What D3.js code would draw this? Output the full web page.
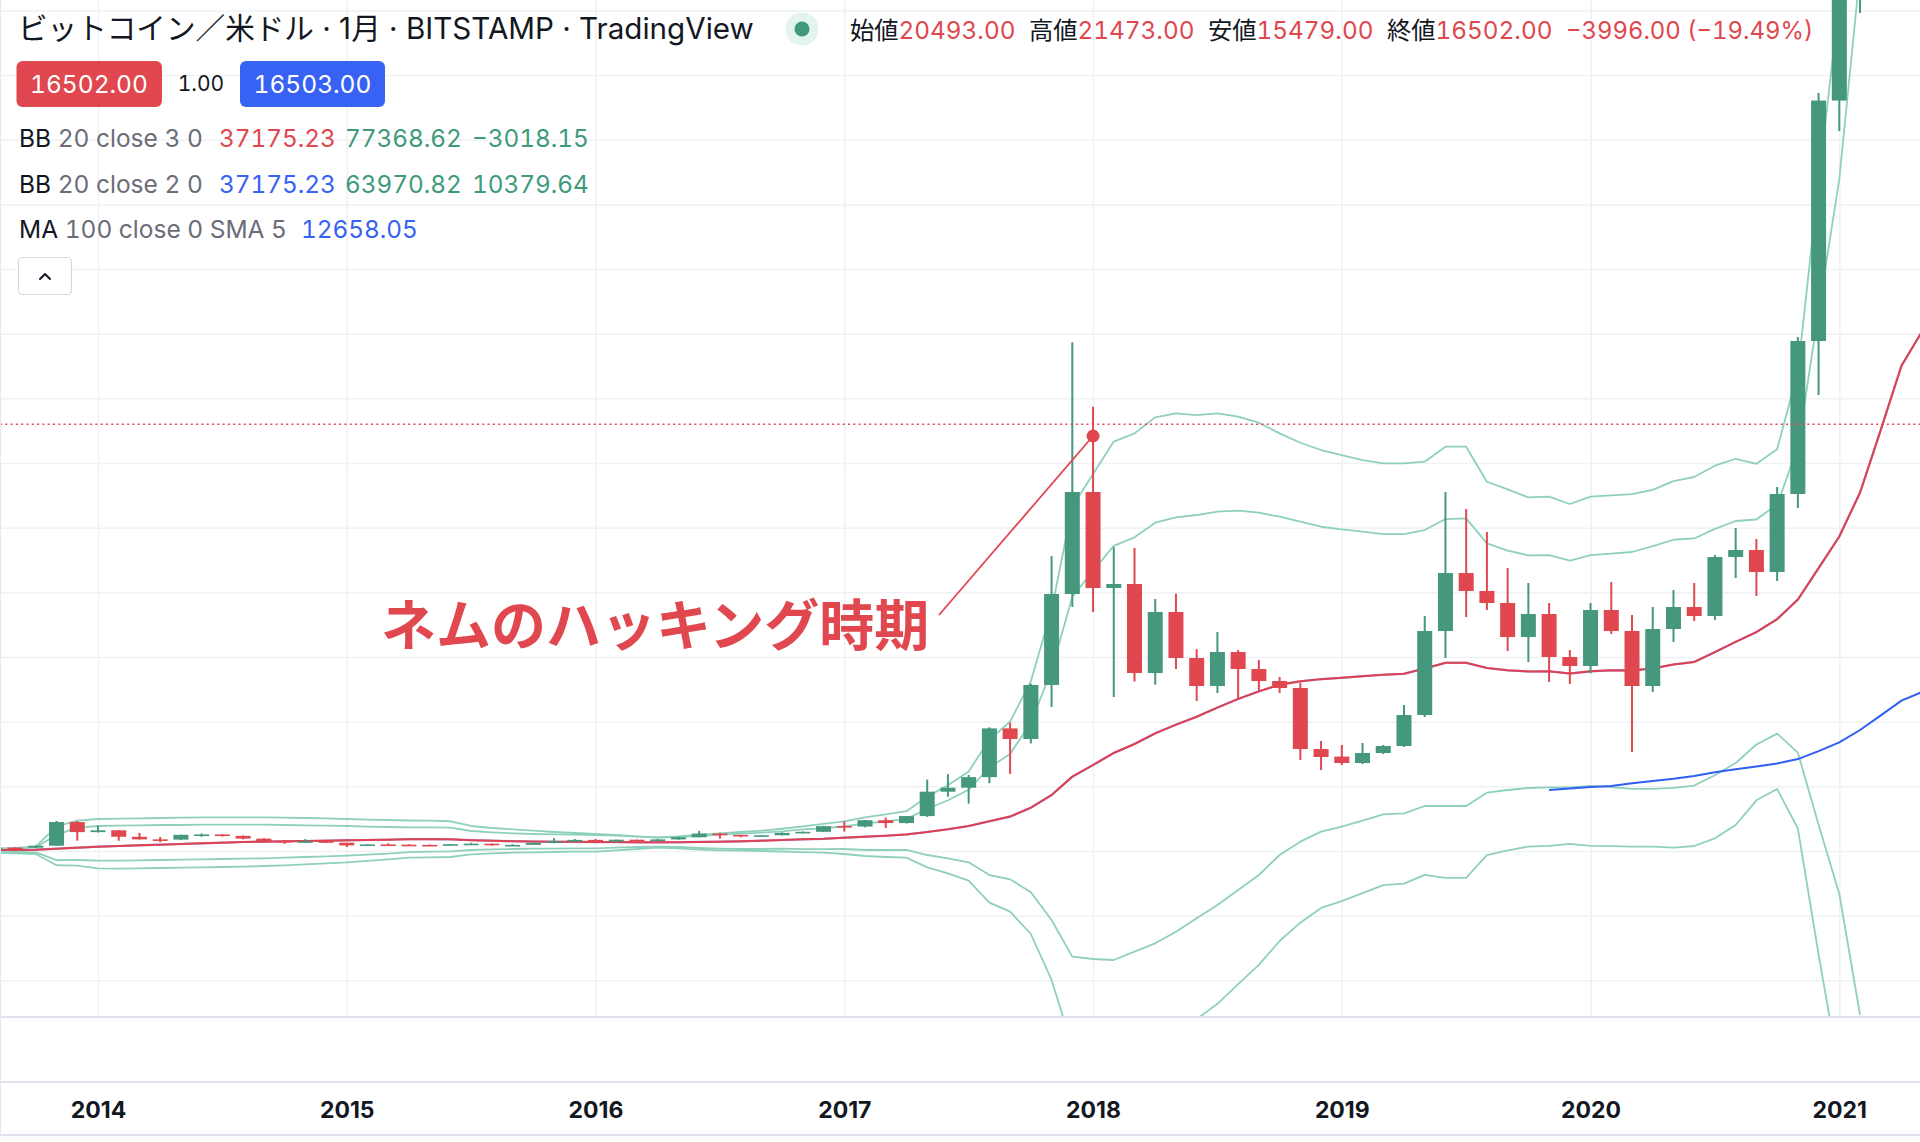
<!DOCTYPE html>
<html lang="ja"><head><meta charset="utf-8"><title>BTCUSD 1M</title>
<script src="https://cdn.jsdelivr.net/npm/d3@7/dist/d3.min.js"></script>
<style>
html,body{margin:0;padding:0;background:#fff;overflow:hidden}
svg{display:block;font-family:Inter,"Noto Sans CJK JP",sans-serif}
.tnum{font-feature-settings:"tnum" 1;font-variant-numeric:tabular-nums}
</style></head><body>
<svg id="c" width="1920" height="1142"></svg>
<script>
// ---------- DATA (monthly, Aug 2013 .. ) ----------
const months = d3.timeMonth.range(new Date(2013, 7, 1), new Date(2021, 5, 1)); // Aug 2013 .. May 2021
const yearLabels = ["2014","2015","2016","2017","2018","2019","2020","2021"];

const openP = [106,135,127,204,1120,
 730,800,550,450,440,625,640,585,478,386,338,378,
 320,217,254,244,236,230,263,284,230,236,314,377,
 430,368,437,416,448,531,673,624,573,609,700,742,
 966,945,1190,1080,1350,2293,2447,2856,4740,4330,6420,9936,
 13880,10168,10322,6881,9240,7461,6379,7693,7036,6572,6302,3943,
 3650,3402,3789,4059,5258,8505,10747,10052,9588,8273,9162,7500,
 7152,9317,8505,6379,8583,9433,9085,11366,11637,10786,13802,19717,
 29014,33100,45200,58800];
const highP = [140,140,215,1163,1160,
 980,815,700,540,630,680,650,600,495,415,460,385,
 320,265,300,260,250,270,315,285,262,330,502,465,
 465,445,440,465,555,780,705,624,612,720,755,975,
 1150,1200,1290,1355,2760,2970,2940,4780,4960,6470,11400,19666,
 17176,11750,11714,9742,9950,7800,8467,7771,7384,6727,6495,4253,
 4098,4175,4100,5644,9085,13879,13222,12332,10940,10361,9588,7771,
 9588,10400,9124,9433,10090,10361,11443,12487,12062,14072,19871,29304,
 41950,58300,61800,64900];
const lowP = [100,110,110,200,400,
 720,395,440,340,420,550,560,450,360,275,320,310,
 152,200,240,215,225,220,255,200,225,235,300,345,
 350,365,395,412,436,525,480,530,570,605,680,740,
 750,914,890,1060,1320,2100,1830,2620,2980,4160,5570,9433,
 9240,5950,6550,6430,7036,5800,6108,5876,6147,6108,3518,3131,
 3325,3363,3750,4021,5180,7461,9046,9317,7732,7307,6534,6456,
 6870,8390,3827,6147,8080,8892,8930,10554,9858,10438,13261,17629,
 27835,32400,45000,47000];
const closeP = [135,127,204,1120,730,
 800,550,450,440,625,640,585,478,386,338,378,320,
 217,254,244,236,230,263,284,230,236,314,377,430,
 368,437,416,448,531,673,624,573,609,700,742,960,
 945,1190,1080,1350,2293,2447,2856,4740,4330,6420,9936,13880,
 10168,10322,6881,9240,7461,6379,7693,7036,6572,6302,3943,3634,
 3402,3789,4059,5258,8505,10747,10052,9588,8273,9162,7500,7152,
 9317,8505,6379,8583,9433,9085,11366,11637,10786,13802,19717,29014,
 33100,45200,58800,57700];

// Bollinger basis (SMA 20) and bands
const basis = [39,39,52,90,129,
 168,193,219,245,271,296,322,348,361,374,387,399,
 412,425,438,458,458,450,418,398,378,365,358,356,
 345,345,337,335,338,350,362,375,398,425,450,470,
 515,554,590,640,735,840,965,1150,1330,1675,2165,2873,
 3325,3790,4137,4550,4885,5190,5545,5880,6170,6430,6560,6645,
 6695,6760,6815,6850,7055,7275,7275,7075,6985,6940,6950,6860,
 6945,6985,6980,7060,7210,7310,7690,8085,8465,8965,9720,10935,
 12160,13860,16280,18760,20100];
const bb3Upper = [90,116,168,950,1173,
 1237,1250,1263,1276,1289,1302,1302,1302,1302,1289,1276,1263,
 1237,1211,1198,1180,1173,1150,967,889,838,786,735,696,
 657,619,567,528,567,631,683,735,786,860,950,1050,
 1146,1301,1412,1538,2101,2543,3077,4297,5005,6559,9317,13310,
 14575,15830,16148,16767,16921,16856,16921,16790,16558,16148,15785,15503,
 15309,15116,14988,14988,15051,15631,15631,14277,13983,13674,13700,13415,
 13700,13750,13800,13960,14300,14460,14896,15165,14970,15530,18532,25860,
 32886,44110];
const bb2Upper = [77,103,142,620,902,
 967,979,992,1005,1005,1018,1018,1018,1018,1005,992,979,
 967,941,928,915,915,902,773,722,683,657,644,631,
 619,593,554,515,541,580,631,670,709,760,840,880,
 953,1069,1141,1241,1625,1963,2368,3228,3755,4948,6998,9831,
 10825,11800,12128,12692,12900,12990,13118,13157,13080,12924,12731,12537,
 12437,12344,12255,12255,12410,12835,12862,11896,11610,11432,11443,11223,
 11443,11500,11560,11784,12034,12084,12456,12758,12817,13399,15604,20869,
 25978,34020];
const bb2Lower = [-26,-39,-52,-350,-348,
 -374,-374,-361,-348,-335,-322,-309,-296,-283,-258,-232,-206,
 -180,-140,-100,-40,-26,-13,39,64,77,90,90,103,
 103,129,155,168,155,116,90,77,77,90,75,75,
 77,39,39,39,-155,-283,-438,-928,-1095,-1598,-2668,-4085,
 -4175,-4214,-3892,-3570,-3119,-2603,-2088,-1508,-928,-155,361,747,
 941,1173,1417,1456,1740,1740,1740,2255,2358,2436,2461,2461,
 2513,2470,2400,2400,2440,2530,2930,3402,4117,4539,3804,1013,
 -1662,-6340];
const bb3Lower = [-64,-90,-116,-550,-567,
 -670,-683,-670,-657,-644,-631,-619,-606,-580,-554,-515,-477,
 -438,-380,-320,-260,-245,-232,-129,-90,-64,-52,-39,-26,
 -26,26,77,129,103,52,26,13,0,-20,-40,-60,
 -116,-193,-232,-258,-631,-863,-1147,-1997,-2345,-3209,-4987,-7564,
 -7925,-8209,-7907,-7630,-7115,-6502,-5909,-5150,-4400,-3480,-2770,-2200,
 -1940,-1630,-1320,-1260,-925,-1040,-1040,-158,25,170,200,276,
 200,190,167,167,129,193,490,1005,1960,2400,870,-4000,
 -8570,-16430];
// MA 100 (SMA 5 smoothing), starts Nov 2019 (index 75)
const ma100Start = 75;
const ma100 = [2358,2416,2474,2513,2621,2706,2791,2903,3043,3159,3271,3383,3553,3862,4202,4678,5246,5811,6150];

const priceGrid = [-5000,-2500,0,2500,5000,7500,10000,12500,15000,17500,20000,22500,25000,27500,30000,32500];
const lastClose = 16502;
const annotationText = "ネムのハッキング時期";
const annotationPoint = {i: 53, price: 16044};
const annotationFrom  = {i: 45.57, price: 9124};

// ---------- SCALES ----------
const W = 1920, H = 1142, PLOT_H = 1016;
const x = d3.scaleLinear().domain([0, 93]).range([-5.65, 1922.24]);
const y = d3.scaleLinear().domain([0, 32500]).range([851, 10.4]);

const UP = "#45977d", DOWN = "#e0474f", BAND = "#8fd0bc";
const svg = d3.select("#c");
svg.append("rect").attr("width", W).attr("height", H).attr("fill", "#fff");
svg.append("defs").append("clipPath").attr("id", "plot")
  .append("rect").attr("x", 0).attr("y", 0).attr("width", W).attr("height", PLOT_H);

// ---------- GRID ----------
const gy = svg.append("g").call(d3.axisLeft(y).tickValues(priceGrid).tickSize(-W).tickFormat(""));
gy.select(".domain").remove();
gy.selectAll("line").attr("stroke", "#eff1f5").attr("stroke-width", 1.5);

const yearIdx = months.map((d, i) => d.getMonth() === 0 ? i : null).filter(v => v !== null);
const gx = svg.append("g").attr("transform", `translate(0,${PLOT_H})`)
  .call(d3.axisBottom(x).tickValues(yearIdx).tickSize(-PLOT_H).tickFormat(""));
gx.select(".domain").remove();
gx.selectAll("line").attr("stroke", "#eff1f5").attr("stroke-width", 1.5);

// ---------- PLOT ----------
const plot = svg.append("g").attr("clip-path", "url(#plot)");
const line = d3.line().x((d, i) => x(i)).y(d => y(d));
[bb3Upper, bb2Upper, bb2Lower, bb3Lower].forEach(arr => {
  plot.append("path").attr("d", line(arr)).attr("fill", "none")
    .attr("stroke", BAND).attr("stroke-width", 1.8).attr("stroke-linejoin", "round");
});
plot.append("path").attr("d", d3.line().x((d, i) => x(i + ma100Start)).y(d => y(d))(ma100))
  .attr("fill", "none").attr("stroke", "#2f5ff5").attr("stroke-width", 2);
plot.append("path").attr("d", line(basis)).attr("fill", "none")
  .attr("stroke", "#7a4fc8").attr("stroke-width", 2.2).attr("opacity", 0.6);
plot.append("path").attr("d", line(basis)).attr("fill", "none")
  .attr("stroke", "#dc4252").attr("stroke-width", 2);

const candles = plot.append("g");
closeP.forEach((c, i) => {
  const o = openP[i], col = c >= o ? UP : DOWN, cx = x(i);
  candles.append("line").attr("x1", cx).attr("x2", cx)
    .attr("y1", y(highP[i])).attr("y2", y(lowP[i]))
    .attr("stroke", col).attr("stroke-width", 2);
  const top = y(Math.max(o, c)), bot = y(Math.min(o, c));
  candles.append("rect").attr("x", cx - 7.5).attr("width", 15)
    .attr("y", top).attr("height", Math.max(1.6, bot - top)).attr("fill", col);
});

// last price dotted line
plot.append("line").attr("x1", 0).attr("x2", W).attr("y1", y(lastClose)).attr("y2", y(lastClose))
  .attr("stroke", "#e0474f").attr("stroke-width", 1.6).attr("stroke-dasharray", "2 3.3");

// annotation
plot.append("line")
  .attr("x1", x(annotationFrom.i)).attr("y1", y(annotationFrom.price))
  .attr("x2", x(annotationPoint.i)).attr("y2", y(annotationPoint.price))
  .attr("stroke", "#e0474f").attr("stroke-width", 1.8);
plot.append("circle").attr("cx", x(annotationPoint.i)).attr("cy", y(annotationPoint.price))
  .attr("r", 6.5).attr("fill", "#e0474f");
svg.append("text").attr("x", 381).attr("y", 621).attr("dominant-baseline", "central")
  .attr("font-family", "'Noto Sans CJK JP',sans-serif").attr("font-weight", 700)
  .attr("font-size", 55).attr("fill", "#e0474f").text(annotationText);

// ---------- PANE BORDERS / TIME AXIS ----------
[PLOT_H + 1, 1082, 1135].forEach(v => svg.append("line").attr("x1", 0).attr("x2", W)
  .attr("y1", v).attr("y2", v).attr("stroke", "#e0e3eb").attr("stroke-width", 2));
svg.append("line").attr("x1", 0.5).attr("x2", 0.5).attr("y1", 0).attr("y2", 1135)
  .attr("stroke", "#e6e8ee").attr("stroke-width", 1);

const ta = svg.append("g").attr("transform", "translate(0,1082)")
  .call(d3.axisBottom(x).tickValues(yearIdx).tickSize(0).tickFormat((d, k) => yearLabels[k]));
ta.select(".domain").remove();
ta.selectAll("text").attr("y", 28).attr("dy", "0.36em")
  .attr("font-family", "Inter,sans-serif").attr("font-size", 23).attr("font-weight", 700)
  .attr("fill", "#131722");

// ---------- HEADER / LEGEND ----------
const hdr = svg.append("g");
hdr.append("text").attr("x", 18).attr("y", 39).attr("font-size", 29.6).attr("fill", "#131722")
  .text("ビットコイン／米ドル · 1月 · BITSTAMP · TradingView");
hdr.append("circle").attr("cx", 802).attr("cy", 29).attr("r", 16.5).attr("fill", "#e3f3ed");
hdr.append("circle").attr("cx", 802).attr("cy", 29).attr("r", 7.5).attr("fill", "#3f9a7c");

const ohlc = [["始値", "20493.00", 850], ["高値", "21473.00", 1029], ["安値", "15479.00", 1208], ["終値", "16502.00", 1387]];
ohlc.forEach(([lab, val, px]) => {
  const t = hdr.append("text").attr("class", "tnum").attr("x", px).attr("y", 39).attr("font-size", 24.3);
  t.append("tspan").attr("fill", "#131722").text(lab);
  t.append("tspan").attr("fill", "#e0474f").text(val);
});
hdr.append("text").attr("class", "tnum").attr("x", 1566).attr("y", 39).attr("font-size", 23.9).attr("fill", "#e0474f")
  .text("−3996.00 (−19.49%)");

hdr.append("rect").attr("x", 16.5).attr("y", 61).attr("width", 145.5).attr("height", 46).attr("rx", 6).attr("fill", "#e0474f");
hdr.append("text").attr("class", "tnum").attr("x", 89).attr("y", 84).attr("dy", "0.35em").attr("text-anchor", "middle")
  .attr("font-size", 24.5).attr("fill", "#fff").text("16502.00");
hdr.append("text").attr("class", "tnum").attr("x", 201).attr("y", 84).attr("dy", "0.35em").attr("text-anchor", "middle")
  .attr("font-size", 21).attr("fill", "#131722").text("1.00");
hdr.append("rect").attr("x", 240).attr("y", 61).attr("width", 145).attr("height", 46).attr("rx", 6).attr("fill", "#3862f3");
hdr.append("text").attr("class", "tnum").attr("x", 312.5).attr("y", 84).attr("dy", "0.35em").attr("text-anchor", "middle")
  .attr("font-size", 24.5).attr("fill", "#fff").text("16503.00");

const legendRows = [
  {name: "BB", args: " 20 close 3 0", y: 147, vals: [["37175.23", "#e0474f", 219], ["77368.62", "#3f9a7c", 345], ["−3018.15", "#3f9a7c", 472]]},
  {name: "BB", args: " 20 close 2 0", y: 193, vals: [["37175.23", "#3862f3", 219], ["63970.82", "#3f9a7c", 345], ["10379.64", "#3f9a7c", 472]]},
  {name: "MA", args: " 100 close 0 SMA 5", y: 238, vals: [["12658.05", "#3862f3", 301]]}
];
legendRows.forEach(r => {
  const t = hdr.append("text").attr("class", "tnum").attr("x", 19).attr("y", r.y).attr("font-size", 24.5);
  t.append("tspan").attr("fill", "#131722").text(r.name);
  t.append("tspan").attr("fill", "#6a6d78").text(r.args);
  r.vals.forEach(([v, c, px]) => hdr.append("text").attr("class", "tnum").attr("x", px).attr("y", r.y)
    .attr("font-size", 24.3).attr("fill", c).text(v));
});
hdr.append("rect").attr("x", 18.5).attr("y", 257.5).attr("width", 53).attr("height", 37).attr("rx", 4)
  .attr("fill", "#fff").attr("stroke", "#d6d9e0").attr("stroke-width", 1.2);
hdr.append("polyline").attr("points", "40,279 45,274 50,279").attr("fill", "none")
  .attr("stroke", "#131722").attr("stroke-width", 2).attr("stroke-linecap", "round").attr("stroke-linejoin", "round");
</script></body></html>
